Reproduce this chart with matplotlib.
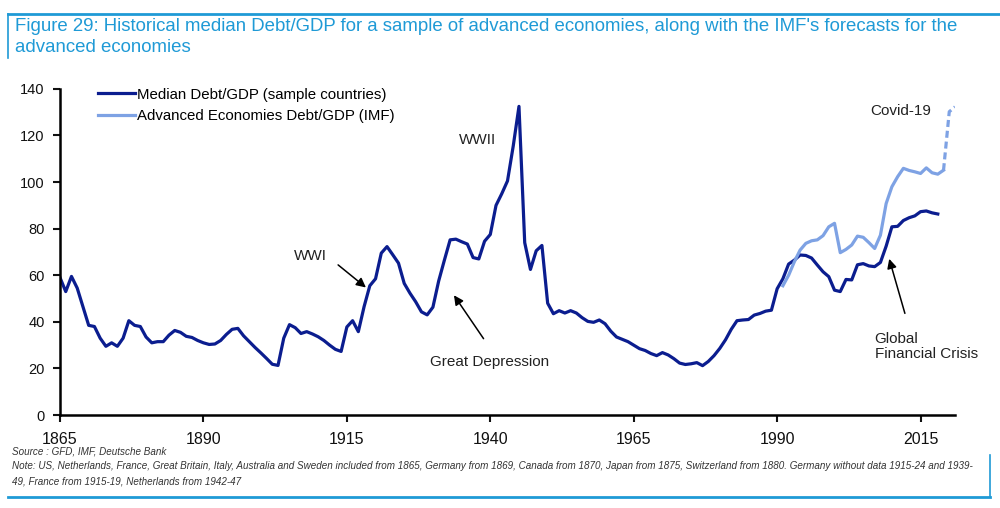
import numpy as np
import matplotlib.pyplot as plt
import matplotlib.lines as mlines

# ---- data ----
median_years = list(range(1865, 2019))
median_vals = [
    59, 53, 59.5, 54.5, 46.5, 38.5, 38, 33, 29.5, 31,          # 1865-1874
    29.5, 33, 40.5, 38.5, 38, 33.5, 31, 31.5, 31.5, 34.3,      # 1875-1884
    36.3, 35.5, 33.8, 33.3, 32, 31, 30.3, 30.5, 32, 34.6,      # 1885-1894
    36.8, 37.2, 34, 31.5, 29, 26.7, 24.3, 21.8, 21.3, 33,      # 1895-1904
    38.8, 37.5, 35, 35.8, 34.8, 33.6, 32, 30, 28.2, 27.3,      # 1905-1914
    37.8, 40.5, 35.8, 46.5, 55.5, 58.5, 69.5, 72.3, 68.8, 65.2,  # 1915-1924
    56.5, 52.3, 48.6, 44.3, 43, 46.3, 57.5, 66.5, 75.2, 75.5,  # 1925-1934
    74.4, 73.4, 67.6, 67, 74.6, 77.5, 90, 95, 100.5, 115.5,    # 1935-1944
    132.5, 74, 62.5, 70.5, 72.8, 48, 43.5, 44.8, 43.8, 44.8,   # 1945-1954
    43.8, 41.8, 40.2, 39.8, 40.8, 39.2, 36, 33.5, 32.5, 31.5,  # 1955-1964
    30, 28.5, 27.7, 26.4, 25.5, 26.8, 25.8, 24.2, 22.3, 21.7,  # 1965-1974
    22, 22.5, 21.2, 23, 25.5, 28.6, 32.3, 36.8, 40.5, 40.8,    # 1975-1984
    41, 42.9, 43.6, 44.6, 45, 54.2, 58.5, 64.8, 66.5, 68.7,    # 1985-1994
    68.5, 67.4, 64.4, 61.5, 59.4, 53.6, 53, 58.2, 58, 64.5,    # 1995-2004
    65, 64, 63.7, 65.5, 72.5, 80.8, 81, 83.5, 84.7, 85.5,      # 2005-2014
    87.3, 87.6, 86.8, 86.3,                                    # 2015-2018
]
imf_years = list(range(1991, 2022))
imf_vals = [
    55.5, 60, 65.8, 70.8, 73.7, 74.8, 75.2, 77, 80.8, 82.3,    # 1991-2000
    69.7, 71.1, 73, 76.8, 76.3, 74, 71.5, 77.2, 90.8, 98,      # 2001-2010
    102.3, 105.9, 105, 104.4, 103.7, 106.1, 104, 103.4, 105.1, # 2011-2019
    130.2, 132.3,                                              # 2020-2021 forecast
]
imf_last_actual = 2019

x_ticks = [1865, 1890, 1915, 1940, 1965, 1990, 2015]
y_ticks = [0, 20, 40, 60, 80, 100, 120, 140]

title = ("Figure 29: Historical median Debt/GDP for a sample of advanced economies, "
         "along with the IMF's forecasts for the\nadvanced economies")
source = "Source : GFD, IMF, Deutsche Bank"
note1 = ("Note: US, Netherlands, France, Great Britain, Italy, Australia and Sweden included from 1865, "
         "Germany from 1869, Canada from 1870, Japan from 1875, Switzerland from 1880. "
         "Germany without data 1915-24 and 1939-")
note2 = "49, France from 1915-19, Netherlands from 1942-47"

# ---- style ----
dark = '#0b1d8f'
light = '#7ea2e4'
frame_blue = '#1f9ad6'
plt.rcParams['font.family'] = ['Liberation Sans', 'DejaVu Sans']

fig = plt.figure(figsize=(10, 5.08), dpi=100)
ax = fig.add_axes([0.06, 0.183, 0.895, 0.642])

ax.plot(median_years, median_vals, color=dark, lw=2.3, solid_joinstyle='round')
i = imf_years.index(imf_last_actual)
ax.plot(imf_years[:i + 1], imf_vals[:i + 1], color=light, lw=2.3)
ax.plot(imf_years[i:], imf_vals[i:], color=light, lw=2.3, ls=(0, (2.2, 1.2)))

ax.set_xlim(1865, 2021)
ax.set_ylim(0, 140)
ax.set_xticks(x_ticks)
ax.set_yticks(y_ticks)
for s in ['top', 'right']:
    ax.spines[s].set_visible(False)
for s in ['left', 'bottom']:
    ax.spines[s].set_linewidth(1.8)
ax.tick_params(axis='both', width=1.5, length=5, colors='#111111')
ax.tick_params(axis='x', labelsize=11.5, pad=7)
ax.tick_params(axis='y', labelsize=10.5, pad=6)

h1 = mlines.Line2D([], [], color=dark, lw=2.3)
h2 = mlines.Line2D([], [], color=light, lw=2.3)
ax.legend([h1, h2], ['Median Debt/GDP (sample countries)', 'Advanced Economies Debt/GDP (IMF)'],
          loc='upper left', bbox_to_anchor=(0.027, 1.045), frameon=False, fontsize=10.8,
          handlelength=2.5, handletextpad=0.1, labelspacing=0.5)

# annotations
akw = dict(arrowstyle='-|>', color='black', lw=1.1, mutation_scale=14)
ax.text(1908.6, 68.2, 'WWI', ha='center', va='center', fontsize=11, color='#222222')
ax.annotate('', xy=(1918.7, 54), xytext=(1913.1, 65.2), arrowprops=akw)
ax.text(1937.7, 118, 'WWII', ha='center', va='center', fontsize=11, color='#222222')
ax.text(1939.8, 22.7, 'Great Depression', ha='center', va='center', fontsize=11, color='#222222')
ax.annotate('', xy=(1933.4, 52.4), xytext=(1939.1, 31.8), arrowprops=akw)
ax.text(2011.5, 130.5, 'Covid-19', ha='center', va='center', fontsize=11, color='#222222')
ax.text(2007.0, 29.3, 'Global\nFinancial Crisis', ha='left', va='center', fontsize=11,
        color='#222222', linespacing=1.1)
ax.annotate('', xy=(2009.4, 68.2), xytext=(2012.4, 42.5), arrowprops=akw)

# title, notes and frame lines
fig.text(0.015, 0.965, title, ha='left', va='top', fontsize=13.4, color=frame_blue,
         linespacing=1.3)
fig.text(0.012, 1 - 451 / 508, source, ha='left', va='center', fontsize=7.15, style='italic',
         color='#333333')
fig.text(0.012, 1 - 466 / 508, note1, ha='left', va='center', fontsize=7.15, style='italic',
         color='#333333')
fig.text(0.012, 1 - 481 / 508, note2, ha='left', va='center', fontsize=7.15, style='italic',
         color='#333333')
fig.add_artist(mlines.Line2D([0.008, 1.0], [1 - 14 / 508] * 2, color=frame_blue, lw=2))
fig.add_artist(mlines.Line2D([0.008, 0.008], [1 - 14 / 508, 1 - 58 / 508], color=frame_blue, lw=1.2))
fig.add_artist(mlines.Line2D([0.008, 0.99], [1 - 497 / 508] * 2, color=frame_blue, lw=2))
fig.add_artist(mlines.Line2D([0.99, 0.99], [1 - 497 / 508, 1 - 455 / 508], color=frame_blue, lw=1.2))

fig.savefig('out.png', dpi=100)
